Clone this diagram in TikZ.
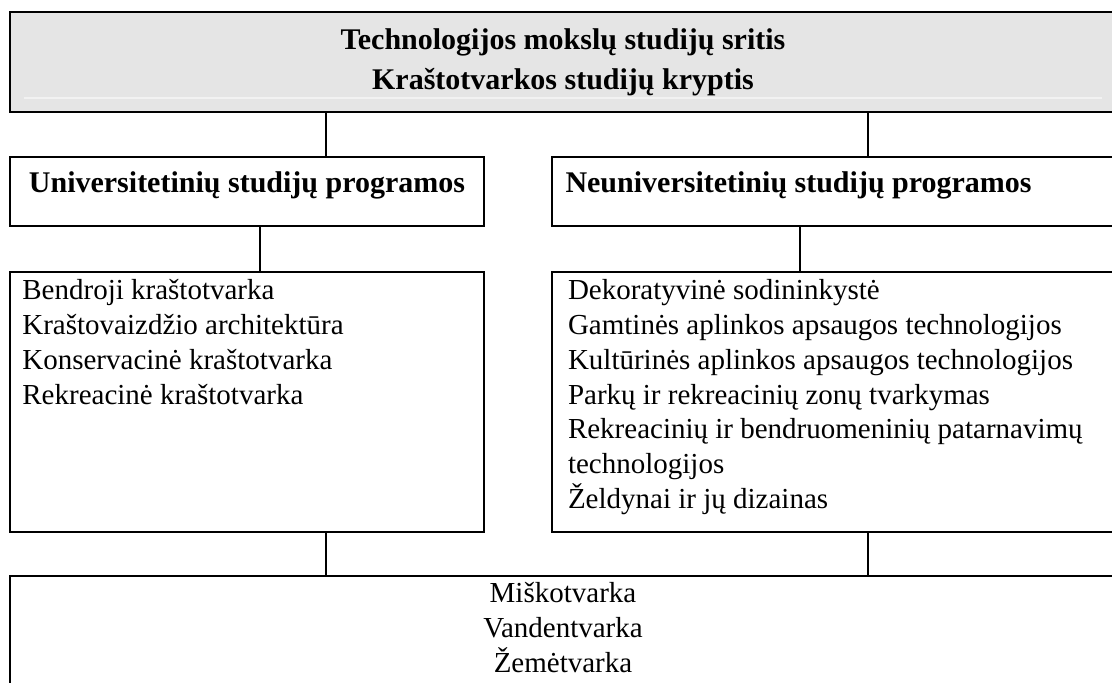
\documentclass[tikz,border=0pt]{standalone}
\usepackage{fontspec}
\setmainfont{Liberation Serif}
\usetikzlibrary{positioning}
\tikzset{box/.style = {draw, line width=1pt, inner sep=0, outer sep=0}}
\tikzset{headbox/.style = {box, font=\fontsize{15}{20}\selectfont\bfseries, align=center}}
\tikzset{progbox/.style = {box, font=\fontsize{15}{18}\selectfont\bfseries,
                           text height=18pt, text depth=16.5pt, minimum width=237pt}}
\tikzset{listtext/.style = {inner sep=0, align=left, font=\fontsize{14.5}{17.35}\selectfont}}
\tikzset{conn/.style = {line width=0.65pt}}
\definecolor{headgray}{rgb}{0.898, 0.898, 0.898}

\begin{document}
\begin{tikzpicture}[x=0.5pt, y=-0.5pt]
    \useasboundingbox (0, 0) rectangle (1112, 683);
    \clip (0, 0) rectangle (1112, 683);

    \node [headbox, fill=headgray, line width=1.1pt, minimum width=553pt, minimum height=50pt]
        (field) at (563, 62) {Technologijos mokslų studijų sritis\\Kraštotvarkos studijų kryptis};
    \draw [black!5, line width=0.6pt] ([xshift=7pt, yshift=7pt]field.south west) -- ([xshift=-7pt, yshift=7pt]field.south east);

    \node [progbox, anchor=north west] (uni) at (10, 157) {Universitetinių studijų programos};
    \node [progbox, anchor=north west, minimum width=282pt]
        (neuni) at (552, 157) {\hspace{6.75pt}\makebox[275.25pt][l]{Neuniversitetinių studijų programos}};

    \node [box, anchor=north west, minimum width=237pt, minimum height=130pt] (unilist) at (10, 272) {};
    \node [box, anchor=north west, minimum width=282pt, minimum height=130pt] (neunilist) at (552, 272) {};
    \node [listtext, anchor=north west] (unitext) at ([xshift=6pt, yshift=-3.7pt]unilist.north west)
        {Bendroji kraštotvarka\\Kraštovaizdžio architektūra\\Konservacinė kraštotvarka\\Rekreacinė kraštotvarka};
    \node [listtext, anchor=north west] (neunitext) at ([xshift=7.8pt, yshift=-3.7pt]neunilist.north west)
        {Dekoratyvinė sodininkystė\\Gamtinės aplinkos apsaugos technologijos\\Kultūrinės aplinkos apsaugos technologijos\\Parkų ir rekreacinių zonų tvarkymas\\Rekreacinių ir bendruomeninių patarnavimų\\technologijos\\Želdynai ir jų dizainas};

    \node [box, line width=0.7pt, anchor=north west, minimum width=553pt, minimum height=60pt] (other) at (10, 576) {};
    \node [listtext, align=center, anchor=north] (othertext) at ([yshift=-3.2pt]other.north)
        {Miškotvarka\\Vandentvarka\\Žemėtvarka};

    \draw [conn] (field.south -| 326,0) -- (uni.north -| 326,0);
    \draw [conn] (field.south -| 868,0) -- (neuni.north -| 868,0);
    \draw [conn] (uni.south -| 260,0) -- (unilist.north -| 260,0);
    \draw [conn] (neuni.south -| 800,0) -- (neunilist.north -| 800,0);
    \draw [conn] (unilist.south -| 326,0) -- (other.north -| 326,0);
    \draw [conn] (neunilist.south -| 868,0) -- (other.north -| 868,0);
\end{tikzpicture}
\end{document}
